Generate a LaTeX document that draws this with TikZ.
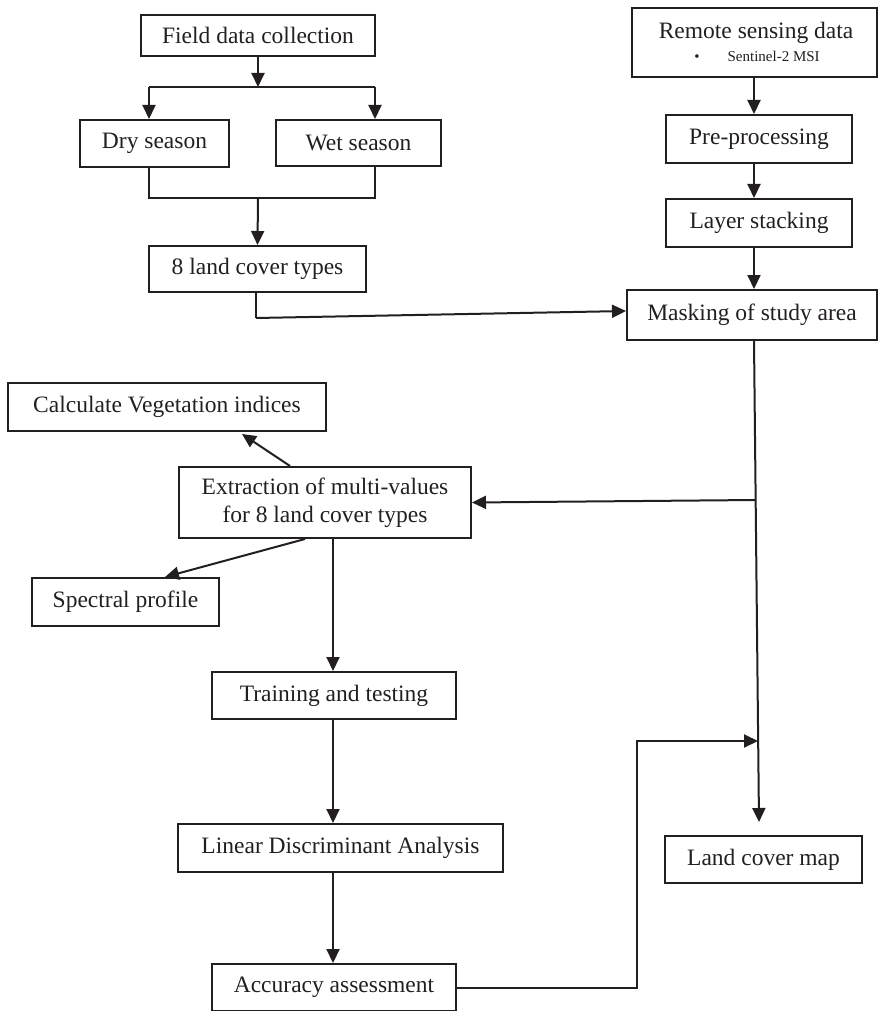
\documentclass[tikz,border=0pt]{standalone}
\usepackage{fontspec}
\setmainfont{Liberation Serif}
\usetikzlibrary{arrows.meta,calc}
\definecolor{ink}{HTML}{231F20}
\begin{document}
\begin{tikzpicture}[x=1pt,y=-1pt,
  box/.style={draw=ink, line width=2pt, inner sep=0pt, text=ink,
    font=\fontsize{23.5}{28}\selectfont, align=center},
  arr/.style={draw=ink, line width=2pt, -{Triangle[width=13pt,length=14pt]}},
  thinln/.style={draw=ink, line width=1.2pt},
  txt/.style={inner sep=0pt, text=ink, font=\fontsize{23.5}{28}\selectfont}]
\useasboundingbox (0,0) rectangle (879,1011);

% left column top
\node[box, minimum width=234pt, minimum height=41pt] (field) at (258,35.5) {Field data collection};
\node[box, minimum width=149pt, minimum height=47pt] (dry) at (154.5,143.5) {Dry season};
\node[box, minimum width=165pt, minimum height=46pt] (wet) at (358.5,143) {Wet season};
\node[box, minimum width=217pt, minimum height=46pt] (lc8) at (257.5,269) {8 land cover types};

% right column
\node[box, minimum width=245pt, minimum height=69pt] (remote) at (754.5,42.5) {};
\node[txt] (remotetxt) at (756,33) {Remote sensing data};
\node[inner sep=0pt, text=ink, font=\fontsize{15}{18}\selectfont] (sentinel) at (757,56) {\textbullet\hspace{28pt}Sentinel-2 MSI};
\node[box, minimum width=186pt, minimum height=48pt] (pre) at (759,139) {Pre-processing};
\node[box, minimum width=186pt, minimum height=48pt] (layer) at (759,223) {Layer stacking};
\node[box, minimum width=250pt, minimum height=50pt] (mask) at (752,315) {Masking of study area};

% middle / lower
\node[box, minimum width=318pt, minimum height=48pt] (calc) at (167,407) {Calculate Vegetation indices};
\node[box, minimum width=292pt, minimum height=71pt] (ext) at (325,502.5) {Extraction of multi-values\\for 8 land cover types};
\node[box, minimum width=187pt, minimum height=48pt] (spec) at (125.5,602) {Spectral profile};
\node[box, minimum width=244pt, minimum height=47pt] (train) at (334,695.5) {Training and testing};
\node[box, minimum width=325pt, minimum height=48pt] (lda) at (340.5,848) {Linear Discriminant Analysis};
\node[box, minimum width=244pt, minimum height=47pt] (acc) at (334,987.5) {Accuracy assessment};
\node[box, minimum width=197pt, minimum height=47pt] (lcm) at (763.5,859.5) {Land cover map};

% field fork
\coordinate (fork) at (258,87);
\coordinate (forkL) at (149,87);
\coordinate (forkR) at (375,87);
\draw[arr] (field.south) -- (fork);
\draw[thinln] (forkL) -- (forkR);
\draw[arr] (forkL) -- (forkL |- dry.north);
\draw[arr] (forkR) -- (forkR |- wet.north);

% merge
\coordinate (mergeL) at (149,198);
\coordinate (mergeR) at (375,198);
\coordinate (merge) at (258,198);
\draw[thinln] (mergeL |- dry.south) -- (mergeL) -- (mergeR) -- (mergeR |- wet.south);
\draw[arr] (merge) -- (lc8.north);

% 8 land cover -> masking
\coordinate (lcbend) at (256,318);
\draw[thinln] (256,292) -- (lcbend);
\draw[arr] (lcbend) -- ($(mask.west)+(0,-4)$);

% right column arrows
\coordinate (rc) at (754,0);
\draw[arr] (rc |- remote.south) -- (rc |- pre.north);
\draw[arr] (rc |- pre.south) -- (rc |- layer.north);
\draw[arr] (rc |- layer.south) -- (rc |- mask.north);

% masking down to land cover map
\coordinate (mtop) at ($(mask.south)+(2,0)$);
\coordinate (mend) at ($(lcm.north)+(-4.5,-13)$);
\draw[arr] (mtop) -- (mend);
\coordinate (branch) at (755.7,500);
\draw[arr] (branch) -- (ext.east);

% extraction arrows
\draw[arr] ($(ext.north)+(-35,0)$) -- ($(calc.south)+(75,2)$);
\draw[arr] ($(ext.south)+(-20,0)$) -- ($(spec.north)+(39.5,0)$);
\coordinate (colx) at (333,0);
\draw[arr] (colx |- ext.south) -- (colx |- train.north);
\draw[arr] (colx |- train.south) -- (colx |- lda.north);
\draw[arr] (colx |- lda.south) -- (colx |- acc.north);

% accuracy -> join
\coordinate (accA) at (637,987.5);
\coordinate (accB) at (637,741);
\coordinate (accC) at (758,741);
\draw[arr] (acc.east) -- (accA) -- (accB) -- (accC);
\end{tikzpicture}
\end{document}
